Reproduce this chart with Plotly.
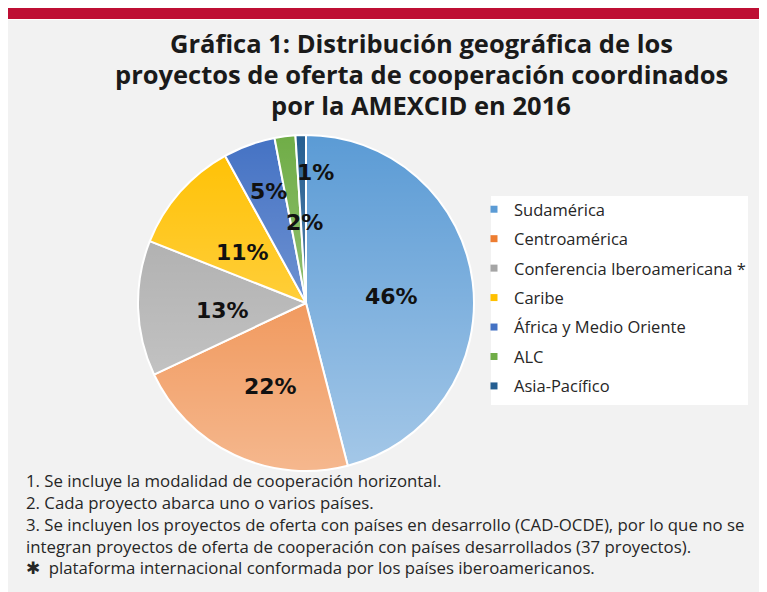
import math
import base64
import plotly.graph_objects as go

# ---- data ----
regions = ["Sudamérica", "Centroamérica", "Conferencia Iberoamericana *", "Caribe",
           "África y Medio Oriente", "ALC", "Asia-Pacífico"]
shares = [46, 22, 13, 11, 5, 2, 1]
colors = ["#5b9bd5", "#ed7d31", "#a5a5a5", "#ffc000", "#4472c4", "#70ad47", "#255e91"]

title_lines = ["Gráfica 1: Distribución geográfica de los",
               "proyectos de oferta de cooperación coordinados",
               "por la AMEXCID en 2016"]
notes = ["1. Se incluye la modalidad de cooperación horizontal.",
         "2. Cada proyecto abarca uno o varios países.",
         "3. Se incluyen los proyectos de oferta con países en desarrollo (CAD-OCDE), por lo que no se",
         "integran proyectos de oferta de cooperación con países desarrollados (37 proyectos).",
         "\u2731  plataforma internacional conformada por los países iberoamericanos."]

# label placement style (radial fraction, angular nudge in degrees)
label_r = [0.51, 0.54, 0.50, 0.48, 0.70, 0.48, 0.78]
label_da = [3, -2, -3, -3, 1, 6, 6]

# page body has an 8px margin; figure coordinates below are in figure pixels
W, H = 759, 584
CX, CY, R = 298, 295, 168  # pie centre/radius in pixels


def px(x):
    return x / W


def py(y):
    return 1 - y / H


fig = go.Figure()
fig.add_trace(go.Pie(
    labels=regions, values=shares, sort=False, direction="clockwise", rotation=0,
    marker=dict(colors=colors, line=dict(color="white", width=2)),
    textinfo="none", hoverinfo="label+percent", showlegend=False,
    domain=dict(x=[px(CX - R), px(CX + R)], y=[py(CY + R), py(CY - R)]),
))

# legend entries
for name, c in zip(regions, colors):
    fig.add_trace(go.Scatter(x=[None], y=[None], mode="markers", name=name, legendgroup=name,
                             marker=dict(symbol="square", size=7, color=c)))

# percentage labels computed from the data
total = sum(shares)
cum = 0
annotations = []
for v, rf, da in zip(shares, label_r, label_da):
    mid = (cum + v / 2) / total * 360 + da
    cum += v
    lx = CX + rf * R * math.sin(math.radians(mid))
    ly = CY - rf * R * math.cos(math.radians(mid))
    annotations.append(dict(x=px(lx), y=py(ly), xref="paper", yref="paper",
                            xanchor="center", yanchor="middle",
                            text=f"<b>{round(v / total * 100)}%</b>", showarrow=False,
                            font=dict(family="DejaVu Sans", size=22, color="#111111")))

# title, one annotation per line
for i, line in enumerate(title_lines):
    annotations.append(dict(x=px(413), y=py(35 + i * 31), xref="paper", yref="paper",
                            xanchor="center", yanchor="middle",
                            text=f"<b>{line}</b>", showarrow=False,
                            font=dict(family="Open Sans", size=25.5, color="#1a1a1a")))

annotations.append(dict(x=px(16), y=py(459), xref="paper", yref="paper", xanchor="left", yanchor="top",
                        text="<br>".join(notes), showarrow=False, align="left",
                        font=dict(family="Open Sans", size=16.8, color="#262626")))

shapes = [
    dict(type="rect", xref="paper", yref="paper", x0=0, x1=1, y0=py(11), y1=1,
         fillcolor="#be0f34", line=dict(width=0), layer="below"),
    dict(type="rect", xref="paper", yref="paper", x0=0, x1=1, y0=0, y1=py(12),
         fillcolor="#f2f2f2", line=dict(width=0), layer="below"),
    dict(type="rect", xref="paper", yref="paper", x0=px(483), x1=px(740), y0=py(397), y1=py(188),
         fillcolor="white", line=dict(width=0), layer="below"),
]

# vertical light gradient over the pie, as in the original fill
d = 2 * R
svg = (f"<svg xmlns='http://www.w3.org/2000/svg' width='{d}' height='{d}' viewBox='0 0 {d} {d}'>"
       "<defs><linearGradient id='g' x1='0' y1='0' x2='0' y2='1'>"
       "<stop offset='0' stop-color='#ffffff' stop-opacity='0'/>"
       "<stop offset='1' stop-color='#ffffff' stop-opacity='0.45'/></linearGradient></defs>"
       f"<circle cx='{R}' cy='{R}' r='{R}' fill='url(#g)'/></svg>")
uri = "data:image/svg+xml;base64," + base64.b64encode(svg.encode()).decode()

fig.update_layout(
    width=W, height=H, margin=dict(l=0, r=0, t=0, b=0),
    paper_bgcolor="white", plot_bgcolor="rgba(0,0,0,0)",
    xaxis=dict(visible=False), yaxis=dict(visible=False),
    annotations=annotations, shapes=shapes,
    images=[dict(source=uri, xref="paper", yref="paper", x=px(CX - R), y=py(CY - R),
                 sizex=d / W, sizey=d / H, xanchor="left", yanchor="top",
                 sizing="stretch", layer="above")],
    legend=dict(x=px(466), y=py(184), xanchor="left", yanchor="top", bgcolor="rgba(0,0,0,0)",
                font=dict(family="Open Sans", size=16.5, color="#262626"), tracegroupgap=5,
                itemclick=False),
)

fig.write_html("out.html")
